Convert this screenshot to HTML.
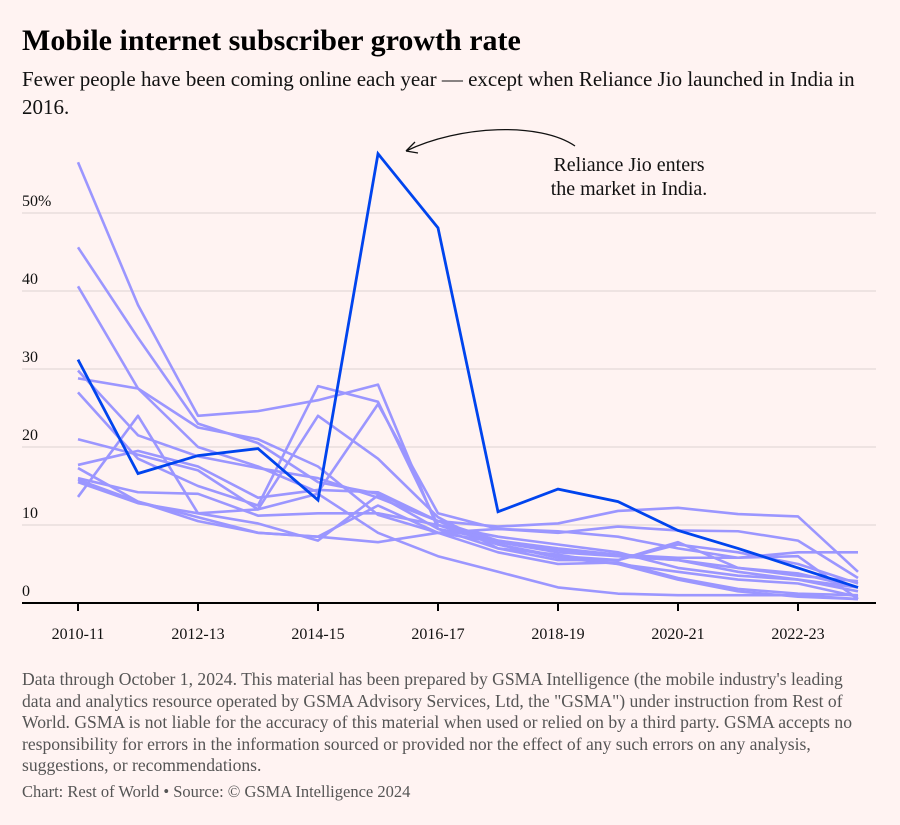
<!DOCTYPE html>
<html><head><meta charset="utf-8"><style>
body{margin:0;background:#fff3f2;font-family:"Liberation Serif",serif;}
#wrap{position:relative;width:900px;height:825px;overflow:hidden;background:#fff3f2}
h1{position:absolute;left:22px;top:24px;margin:0;font-size:30px;font-weight:bold;color:#000}
.sub{position:absolute;left:22px;top:65px;width:860px;font-size:21px;line-height:28px;color:#111}
.foot{position:absolute;left:22px;top:669px;width:845px;font-size:17.6px;line-height:21.5px;color:#555}
.src{position:absolute;left:22px;top:782px;font-size:16.5px;color:#555}
svg{position:absolute;left:0;top:0}
</style></head><body>
<div id="wrap">
<h1>Mobile internet subscriber growth rate</h1>
<div class="sub">Fewer people have been coming online each year — except when Reliance Jio launched in India in 2016.</div>
<svg id="chart" width="900" height="660"></svg>
<div class="foot">Data through October 1, 2024. This material has been prepared by GSMA Intelligence (the mobile industry's leading data and analytics resource operated by GSMA Advisory Services, Ltd, the "GSMA") under instruction from Rest of World. GSMA is not liable for the accuracy of this material when used or relied on by a third party. GSMA accepts no responsibility for errors in the information sourced or provided nor the effect of any such errors on any analysis, suggestions, or recommendations.</div>
<div class="src">Chart: Rest of World • Source: © GSMA Intelligence 2024</div>
</div>
<script>
const years = ["2010-11","2011-12","2012-13","2013-14","2014-15","2015-16","2016-17","2017-18","2018-19","2019-20","2020-21","2021-22","2022-23","2023-24"];
const xTickLabels = ["2010-11","2012-13","2014-15","2016-17","2018-19","2020-21","2022-23"];
const yTicks = [0,10,20,30,40,50];
const india = [31.2,16.6,18.9,19.8,13.2,57.6,48.1,11.7,14.6,13.0,9.3,7.0,4.5,2.0];
const sA = [56.5,38.2,24.0,24.6,26.0,28.0,9.5,8.0,6.8,6.0,5.5,4.5,3.8,2.0];
const sB = [45.6,34.0,23.0,20.5,15.5,14.0,10.5,9.8,10.2,11.8,12.2,11.4,11.1,4.0];
const sC = [40.6,27.5,20.0,17.5,14.2,25.5,11.5,9.5,9.0,9.8,9.3,9.2,8.0,3.2];
const sD = [29.8,21.5,18.8,17.3,16.0,13.5,10.5,8.0,7.0,6.2,5.8,5.8,6.5,6.5];
const sE = [28.8,27.5,22.5,21.0,17.5,11.3,9.0,9.5,9.2,8.5,7.0,5.8,6.0,0.5];
const sF = [27.0,18.5,15.0,12.5,27.8,25.8,10.0,7.5,6.0,5.5,7.5,6.5,5.0,2.5];
const sG = [21.0,19.0,17.0,12.0,24.0,18.5,11.0,7.0,5.5,5.5,7.8,4.5,3.5,2.8];
const sH = [17.7,19.5,17.5,13.5,14.5,14.2,10.5,7.5,5.8,5.0,3.0,1.5,0.8,0.5];
const sI = [17.3,13.0,10.5,9.0,8.5,12.5,9.0,6.5,5.0,5.2,3.2,1.8,1.2,1.0];
const sJ = [16.0,14.2,14.0,11.2,11.5,11.5,10.0,8.5,7.5,6.5,4.5,3.5,3.0,1.5];
const sK = [15.5,12.8,11.5,10.2,8.0,13.8,9.5,7.0,6.2,5.0,4.0,3.0,2.5,0.8];
const sL = [13.6,24.0,11.5,12.0,14.0,9.0,6.0,4.0,2.0,1.2,1.0,1.0,1.0,0.5];
const sM = [15.8,13.0,11.0,9.0,8.5,7.8,9.0,7.8,6.5,6.0,5.5,4.0,3.0,2.0];
const others = [sA,sB,sC,sD,sE,sF,sG,sH,sI,sJ,sK,sL,sM];

const NS="http://www.w3.org/2000/svg";
const svg=document.getElementById('chart');
const x=i=>78+i*60;
const y=v=>603-v*7.8;
function mk(tag,attrs,parent){const e=document.createElementNS(NS,tag);for(const k in attrs)e.setAttribute(k,attrs[k]);(parent||svg).appendChild(e);return e;}

yTicks.forEach(t=>{
  if(t>0){const g=mk('line',{x1:22,x2:876,y1:y(t),y2:y(t),stroke:'#e3d9d8','stroke-width':1.3});
  
  }
  const tx=mk('text',{x:22,y:y(t)-7,'font-size':16,fill:'#111','font-family':'Liberation Serif, serif'});
  tx.textContent=t===50?'50%':String(t);
  
  
});
function pts(arr){return arr.map((v,i)=>x(i)+','+y(v)).join(' ');}
others.forEach((s,k)=>{
  const p=mk('polyline',{points:pts(s),fill:'none',stroke:'#9b96ff','stroke-width':2.6,'stroke-linejoin':'round'});
  
  
});
const ind=mk('polyline',{points:pts(india),fill:'none',stroke:'#0044ee','stroke-width':2.8,'stroke-linejoin':'miter'});



const ax=mk('line',{x1:22,x2:876,y1:603,y2:603,stroke:'#000','stroke-width':2});


xTickLabels.forEach(lab=>{
  const i=years.indexOf(lab);
  const tk=mk('line',{x1:x(i),x2:x(i),y1:603,y2:611,stroke:'#000','stroke-width':2});
  
  
  const tx=mk('text',{x:x(i),y:639,'text-anchor':'middle','font-size':16,fill:'#111','font-family':'Liberation Serif, serif'});
  tx.textContent=lab;
  
  
});
const a1=mk('text',{x:629,y:171,'text-anchor':'middle','font-size':20,fill:'#111','font-family':'Liberation Serif, serif'});
a1.textContent='Reliance Jio enters';


const a2=mk('text',{x:629,y:195,'text-anchor':'middle','font-size':20,fill:'#111','font-family':'Liberation Serif, serif'});
a2.textContent='the market in India.';


const arr=mk('path',{d:'M575,146 C540,122 460,125 406,151 M406,151 L415,142 M406,151 L418,153',fill:'none',stroke:'#111','stroke-width':1.3});


</script>
</body></html>
